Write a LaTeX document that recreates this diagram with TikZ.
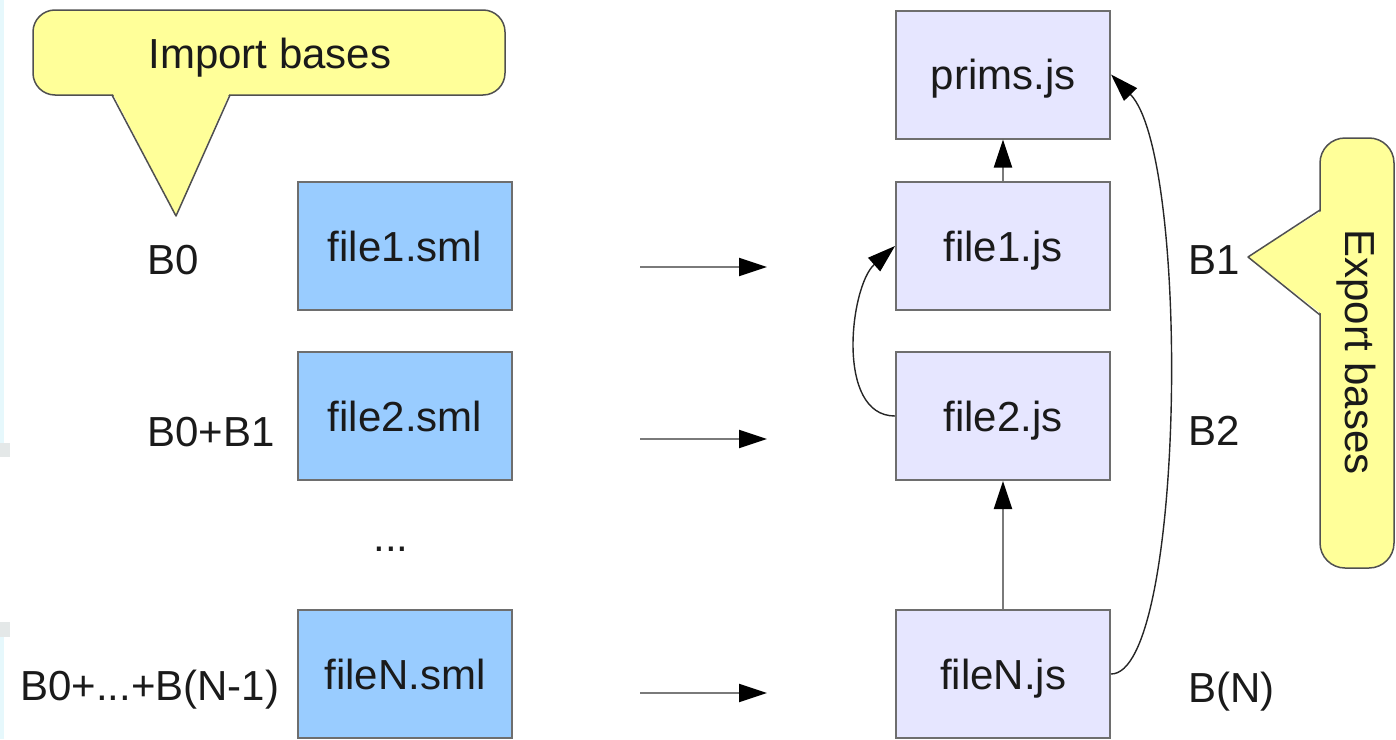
\documentclass[tikz,border=0pt]{standalone}
\usepackage{fontspec}
\setmainfont{Liberation Sans}
\usetikzlibrary{arrows.meta}

\definecolor{smlfill}{HTML}{99CCFF}
\definecolor{jsfill}{HTML}{E6E6FF}
\definecolor{notefill}{HTML}{FFFF99}
\definecolor{boxline}{HTML}{6E6E6E}
\definecolor{noteline}{HTML}{505050}
\definecolor{flowgray}{HTML}{7A7A7A}
\definecolor{ink}{HTML}{1A1A1A}
\definecolor{edgecyan}{HTML}{E6F8FC}
\definecolor{edgegray}{HTML}{E4E8E8}

\newcommand\labfont{\fontsize{42}{50}\selectfont}

\tikzset{
  filebox/.style={draw=boxline, line width=2pt, minimum width=214pt,
    minimum height=128pt, inner sep=0pt, text height=30pt, text depth=0pt,
    font=\labfont, text=ink},
  smlbox/.style={filebox, fill=smlfill},
  jsbox/.style={filebox, fill=jsfill},
  lab/.style={font=\labfont, text=ink, inner sep=0pt},
  note/.style={fill=notefill, draw=noteline, line width=1.5pt},
  flow/.style={draw=flowgray, line width=2pt,
    -{Triangle[length=28pt, width=18pt, color=black]}},
  link/.style={draw=black!85, line width=1.4pt,
    -{Triangle[length=28pt, width=18pt, color=black]}}
}

\begin{document}
\begin{tikzpicture}[x=1pt, y=1pt]
\useasboundingbox (0,0) rectangle (1396,-739);
\clip (0,0) rectangle (1396,-739);

% thin tinted strip along the left edge
\fill[edgecyan] (0,0) rectangle (4,-443);
\fill[edgegray] (0,-443) rectangle (10,-457);
\fill[edgegray] (0,-622) rectangle (10,-637);
\fill[edgecyan] (0,-637) rectangle (4,-739);

% "Import bases" callout
\draw[note, rounded corners=22pt] (33,-10) rectangle (505,-95);
\fill[notefill] (112,-92) -- (176,-216) -- (230,-92) -- cycle;
\draw[note, fill=none, line join=round] (112,-95) -- (176,-216) -- (230,-95);
\node[lab, anchor=base] (imp) at (270,-68) {Import bases};

% "Export bases" callout
\draw[note, rounded corners=25pt] (1320,-138) rectangle (1394,-568);
\fill[notefill] (1323,-210) -- (1248,-257) -- (1323,-315) -- cycle;
\draw[note, fill=none, line join=round] (1320,-210) -- (1248,-257) -- (1320,-315);
\node[lab, anchor=base, rotate=-90] (exp) at (1345,-352) {Export bases};

% source files
\node[smlbox] (s1) at (405,-246) {file1.sml};
\node[smlbox] (s2) at (405,-416) {file2.sml};
\node[smlbox] (sN) at (405,-674) {fileN.sml};
\node[lab, anchor=base] (dots) at (391,-551) {...};

% import base labels
\node[lab, anchor=base west] (b0) at (147,-274) {B0};
\node[lab, anchor=base west] (b01) at (147,-446) {B0+B1};
\node[lab, anchor=base west] (b0n) at (20,-700) {B0+...+B(N-1)};

% generated files
\node[jsbox] (prims) at (1003,-74.5) {prims.js};
\node[jsbox] (j1) at (1003,-246) {file1.js};
\node[jsbox] (j2) at (1003,-416) {file2.js};
\node[jsbox] (jN) at (1003,-674) {fileN.js};

% export base labels
\node[lab, anchor=base west] (e1) at (1188,-274) {B1};
\node[lab, anchor=base west] (e2) at (1188,-445) {B2};
\node[lab, anchor=base west] (eN) at (1188,-702) {B(N)};

% compilation arrows
\coordinate (c1a) at (640,-267);  \coordinate (c1b) at (767,-267);
\coordinate (c2a) at (640,-439);  \coordinate (c2b) at (767,-439);
\coordinate (cNa) at (640,-693);  \coordinate (cNb) at (767,-693);
\draw[flow] (c1a) -- (c1b);
\draw[flow] (c2a) -- (c2b);
\draw[flow] (cNa) -- (cNb);

% dependencies between generated files
\draw[flow] (j1.north) -- (prims.south);
\draw[flow] (jN.north) -- (j2.south);
\draw[link] (j2.west) .. controls +(-60,0) and +(-45,-40) .. (j1.west);
\draw[link] (jN.east) .. controls +(74,0) and +(80,-82) .. (prims.east);
\end{tikzpicture}
\end{document}
